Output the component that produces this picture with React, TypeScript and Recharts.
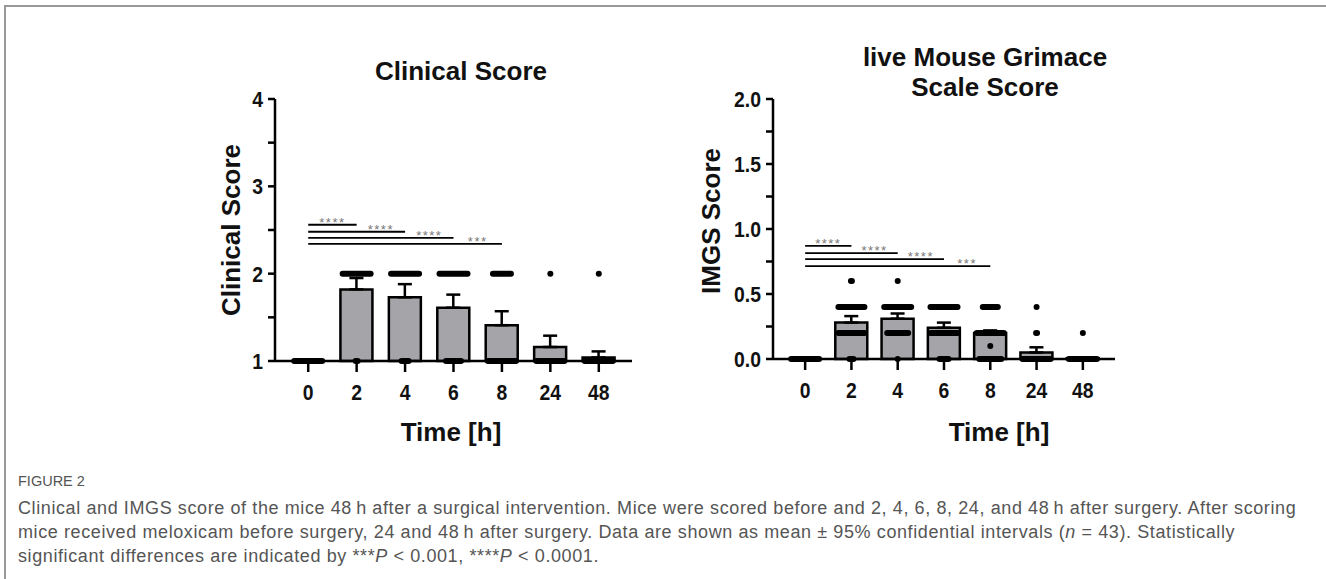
import React from 'react'
import { Bar, ComposedChart, ErrorBar, ReferenceLine, Scatter, XAxis, YAxis } from 'recharts'

const TIMES = ['0', '2', '4', '6', '8', '24', '48']

// clinical score, mean and upper 95% CI
const CLINICAL_MEAN = [1, 1.82, 1.73, 1.61, 1.41, 1.16, 1.04]
const CLINICAL_UPPER = [1, 1.95, 1.88, 1.76, 1.57, 1.29, 1.11]

// imgs score, mean and upper 95% CI
const IMGS_MEAN = [0, 0.28, 0.31, 0.24, 0.2, 0.05, 0.005]
const IMGS_UPPER = [0, 0.33, 0.35, 0.28, 0.22, 0.09, 0.01]

// individual scores: time, score, number of mice
const CLINICAL_DOTS = [
  { t: '0', score: 1, n: 43 },
  { t: '2', score: 2, n: 34 },
  { t: '2', score: 1, n: 3 },
  { t: '4', score: 2, n: 32 },
  { t: '4', score: 1, n: 8 },
  { t: '6', score: 2, n: 29 },
  { t: '6', score: 1, n: 16 },
  { t: '8', score: 2, n: 19 },
  { t: '8', score: 1, n: 30 },
  { t: '24', score: 2, n: 1 },
  { t: '24', score: 1, n: 36 },
  { t: '48', score: 2, n: 1 },
  { t: '48', score: 1, n: 41 },
]

const IMGS_DOTS = [
  { t: '0', score: 0, n: 43 },
  { t: '2', score: 0.6, n: 2 },
  { t: '2', score: 0.4, n: 27 },
  { t: '2', score: 0.2, n: 27 },
  { t: '2', score: 0, n: 5 },
  { t: '4', score: 0.6, n: 1 },
  { t: '4', score: 0.4, n: 28 },
  { t: '4', score: 0.2, n: 22 },
  { t: '4', score: 0, n: 1 },
  { t: '6', score: 0.4, n: 28 },
  { t: '6', score: 0.2, n: 28 },
  { t: '6', score: 0, n: 10 },
  { t: '8', score: 0.4, n: 16 },
  { t: '8', score: 0.2, n: 28 },
  { t: '8', score: 0.1, n: 1 },
  { t: '8', score: 0, n: 23 },
  { t: '24', score: 0.4, n: 1 },
  { t: '24', score: 0.2, n: 2 },
  { t: '24', score: 0, n: 30 },
  { t: '48', score: 0.2, n: 1 },
  { t: '48', score: 0, n: 30 },
]

// significance brackets from 0 h to the given time
const CLINICAL_SIG = [
  { from: '0', to: '2', y: 2.56, stars: '****' },
  { from: '2', to: '4', y: 2.48, stars: '****' },
  { from: '4', to: '6', y: 2.41, stars: '****' },
  { from: '6', to: '8', y: 2.34, stars: '***' },
]
const IMGS_SIG = [
  { from: '0', to: '2', y: 0.87, stars: '****' },
  { from: '2', to: '4', y: 0.815, stars: '****' },
  { from: '4', to: '6', y: 0.768, stars: '****' },
  { from: '6', to: '8', y: 0.715, stars: '***' },
]

const CLINICAL_TICKS = [1, 1.5, 2, 2.5, 3, 3.5, 4]
const IMGS_TICKS = [0, 0.25, 0.5, 0.75, 1, 1.25, 1.5, 1.75, 2]

const CAPTION = [
  'Clinical and IMGS score of the mice 48\u2009h after a surgical intervention. Mice were scored before and 2, 4, 6, 8, 24, and 48\u2009h after surgery. After scoring',
  'mice received meloxicam before surgery, 24 and 48\u2009h after surgery. Data are shown as mean \u00b1 95% confidential intervals (',
  'significant differences are indicated by ***',
]

const ARIAL = "'Liberation Sans', Arial, sans-serif"

function DotRow(props: any) {
  const { cx, cy, payload } = props
  if (cx == null || cy == null) return null
  const w = Math.min(34, 5 + payload.n)
  return <rect x={cx - w / 2} y={cy - 3} width={w} height={6} rx={3} fill="#000" />
}

function StarLabel(props: any) {
  const { viewBox, text } = props
  if (!viewBox) return null
  return (
    <text
      x={viewBox.x + viewBox.width / 2}
      y={viewBox.y + 2}
      textAnchor="middle"
      fontSize={13}
      fill="#777"
      letterSpacing={1.5}
      fontFamily={ARIAL}
    >
      {text}
    </text>
  )
}

// narrow bold tick labels (Arial Narrow look)
function XTick(props: any) {
  const { x, y, payload } = props
  return (
    <g transform={`translate(${x},${y})`}>
      <text transform="scale(0.88,1)" x={0} y={16} textAnchor="middle" fontSize={22} fontWeight={700} fill="#111" fontFamily={ARIAL}>
        {payload.value}
      </text>
    </g>
  )
}

function YTick(props: any) {
  const { x, y, payload, tickFormatter } = props
  const label = tickFormatter ? tickFormatter(payload.value) : String(payload.value)
  return (
    <g transform={`translate(${x},${y})`}>
      <text transform="scale(0.88,1)" x={0} y={8} textAnchor="end" fontSize={22} fontWeight={700} fill="#111" fontFamily={ARIAL}>
        {label}
      </text>
    </g>
  )
}

interface PanelProps {
  mean: number[]
  upper: number[]
  dots: { t: string; score: number; n: number }[]
  sig: { from: string; to: string; y: number; stars: string }[]
  domain: [number, number]
  ticks: number[]
  fmt: (v: number) => string
  width: number
  plotHeight: number
}

function Panel({ mean, upper, dots, sig, domain, ticks, fmt, width, plotHeight }: PanelProps) {
  const data = TIMES.map((t, i) => ({ t, mean: mean[i], err: [0, upper[i] - mean[i]] }))
  const top = 20
  const xh = 80
  const height = top + plotHeight + xh + 20
  return (
    <ComposedChart
      width={width}
      height={height}
      data={data}
      margin={{ top, right: 18, left: 0, bottom: 20 }}
    >
      <XAxis
        dataKey="t"
        allowDuplicatedCategory={false}
        interval={0}
        height={xh}
        padding={{ left: 9, right: 9 }}
        stroke="#000"
        axisLine={{ stroke: '#000', strokeWidth: 2.5 }}
        tickLine={{ stroke: '#000', strokeWidth: 2.5 }}
        tickSize={11}
        tickMargin={12}
        tick={<XTick />}
      />
      <YAxis
        type="number"
        domain={domain}
        ticks={ticks}
        interval={0}
        width={80}
        stroke="#000"
        axisLine={{ stroke: '#000', strokeWidth: 2.5 }}
        tickLine={{ stroke: '#000', strokeWidth: 2.5 }}
        tickSize={7}
        tickMargin={5}
        tickFormatter={fmt}
        tick={<YTick />}
      />
      <Bar dataKey="mean" barSize={32} fill="#a5a5a9" stroke="#000" strokeWidth={2.5} isAnimationActive={false}>
        <ErrorBar dataKey="err" direction="y" width={7} stroke="#000" strokeWidth={2.5} />
      </Bar>
      <Scatter data={dots} dataKey="score" shape={<DotRow />} isAnimationActive={false} />
      {sig.map((s) => (
        <ReferenceLine
          key={'l' + s.to}
          segment={[{ x: '0', y: s.y }, { x: s.to, y: s.y }]}
          stroke="#000"
          strokeWidth={1.8}
        />
      ))}
      {sig.map((s) => (
        <ReferenceLine
          key={'s' + s.to}
          segment={[{ x: s.from, y: s.y }, { x: s.to, y: s.y }]}
          stroke="none"
          label={<StarLabel text={s.stars} />}
        />
      ))}
    </ComposedChart>
  )
}

const abs = (left: number, top: number): React.CSSProperties => ({ position: 'absolute', left, top })

const titleStyle: React.CSSProperties = {
  position: 'absolute',
  fontFamily: ARIAL,
  fontWeight: 700,
  fontSize: 26,
  color: '#111',
  whiteSpace: 'nowrap',
  transform: 'translate(-50%, -50%)',
  lineHeight: '30px',
  textAlign: 'center',
}

export default function App() {
  return (
    <div style={{ position: 'absolute', left: 0, top: 0, width: 1326, height: 579, background: '#fff', overflow: 'hidden' }}>
      <div style={{ position: 'absolute', left: 4, top: 5, width: 1400, height: 700, borderTop: '2px solid #999', borderLeft: '2px solid #999' }} />

      <div style={abs(195, 79)}>
        <Panel
          mean={CLINICAL_MEAN}
          upper={CLINICAL_UPPER}
          dots={CLINICAL_DOTS}
          sig={CLINICAL_SIG}
          domain={[1, 4]}
          ticks={CLINICAL_TICKS}
          fmt={(v) => (Number.isInteger(v) ? String(v) : '')}
          width={455}
          plotHeight={262}
        />
      </div>
      <div style={abs(693, 79)}>
        <Panel
          mean={IMGS_MEAN}
          upper={IMGS_UPPER}
          dots={IMGS_DOTS}
          sig={IMGS_SIG}
          domain={[0, 2]}
          ticks={IMGS_TICKS}
          fmt={(v) => (Math.abs(v * 2 - Math.round(v * 2)) < 1e-9 ? v.toFixed(1) : '')}
          width={440}
          plotHeight={260}
        />
      </div>

      <div style={{ ...titleStyle, left: 461, top: 71 }}>Clinical Score</div>
      <div style={{ ...titleStyle, left: 985, top: 72 }}>
        live Mouse Grimace
        <br />
        Scale Score
      </div>
      <div style={{ ...titleStyle, left: 231, top: 230, transform: 'translate(-50%, -50%) rotate(-90deg)' }}>Clinical Score</div>
      <div style={{ ...titleStyle, left: 711, top: 221, transform: 'translate(-50%, -50%) rotate(-90deg)' }}>IMGS Score</div>
      <div style={{ ...titleStyle, left: 451, top: 432 }}>Time [h]</div>
      <div style={{ ...titleStyle, left: 999, top: 432 }}>Time [h]</div>

      <div style={{ position: 'absolute', left: 18, top: 471, fontFamily: ARIAL, fontSize: 14.5, lineHeight: '20px', color: '#555' }}>
        FIGURE 2
      </div>
      <div style={{ position: 'absolute', left: 18, top: 496, fontFamily: ARIAL, fontSize: 18, letterSpacing: 0.6, lineHeight: '24px', color: '#555', whiteSpace: 'nowrap' }}>
        <div>{CAPTION[0]}</div>
        <div>
          {CAPTION[1]}
          <i>n</i> = 43). Statistically
        </div>
        <div>
          {CAPTION[2]}
          <i>P</i> &lt; 0.001, ****<i>P</i> &lt; 0.0001.
        </div>
      </div>
    </div>
  )
}
